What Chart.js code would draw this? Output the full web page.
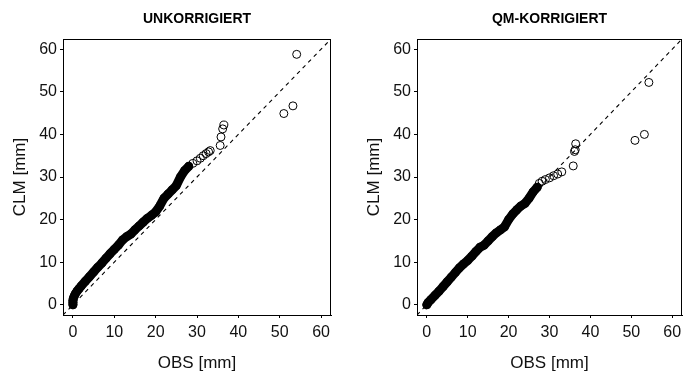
<!DOCTYPE html>
<html>
<head>
<meta charset="utf-8">
<script src="https://cdn.jsdelivr.net/npm/chart.js@4.4.1/dist/chart.umd.min.js"></script>
<style>
  body { margin: 0; background: #fff; }
  .panel { position: absolute; top: 0; width: 343px; height: 372px; }
  #left { left: 0; }
  #right { left: 344px; }
</style>
</head>
<body>
<div class="panel" id="left"><canvas id="rawChart" width="343" height="372"></canvas></div>
<div class="panel" id="right"><canvas id="qmChart" width="343" height="372"></canvas></div>
<script>
// axis limits (R style, 4% extension of 0..60) and ticks
const axisLimits = [-2.4, 62.4];
const tickValues = [0, 10, 20, 30, 40, 50, 60];

// uncorrected: dense part of the quantile curve
const rawDenseObs = [0, 0, 0, 0.1, 0.3, 0.6, 1.0, 1.5, 2, 3, 4, 5, 6, 7, 8, 9, 10, 11, 12, 13, 14, 15, 16, 17, 18, 19, 20, 21, 22, 23, 24, 25, 26, 27, 28];
const rawDenseClm = [0, 0.5, 1.0, 1.5, 2.0, 2.6, 3.2, 3.8, 4.4, 5.5, 6.6, 7.7, 8.8, 9.8, 10.9, 12.0, 13.0, 14.0, 15.2, 16.0, 16.6, 17.6, 18.5, 19.4, 20.3, 21.0, 21.8, 23.2, 25.0, 26.0, 27.0, 28.0, 30.0, 31.5, 32.5];
// uncorrected: single visible circles
const rawSparseObs = [29, 30, 30.8, 31.5, 32.2, 32.8, 33.2, 35.6, 35.8, 36.2, 36.5, 51.0, 53.2, 54.1];
const rawSparseClm = [33.2, 33.8, 34.4, 35.0, 35.5, 35.9, 36.2, 37.4, 39.4, 41.3, 42.2, 44.9, 46.7, 58.8];

// QM corrected
const qmDenseObs = [0, 0.3, 1, 2, 3, 4, 5, 6, 7, 8, 9, 10, 11, 12, 13, 14, 15, 16, 17, 18, 19, 20, 21, 22, 23, 24, 25, 26, 27];
const qmDenseClm = [0, 0.5, 1.2, 2.2, 3.2, 4.3, 5.4, 6.5, 7.6, 8.7, 9.6, 10.4, 11.4, 12.5, 13.5, 14.0, 15.0, 16.0, 16.9, 17.6, 18.3, 20.0, 21.3, 22.3, 23.2, 23.8, 25.0, 26.5, 27.6];
const qmSparseObs = [27.5, 28.2, 29, 30, 31, 32, 33, 35.8, 36.1, 36.3, 36.4, 50.9, 53.2, 54.3];
const qmSparseClm = [28.5, 29.0, 29.4, 29.8, 30.3, 30.7, 31.2, 32.6, 36.0, 36.4, 37.8, 38.6, 40.0, 52.2];

const FONT = "'Liberation Sans', Arial, sans-serif";

function toPoints(xs, ys) {
  return xs.map((x, i) => ({ x: x, y: ys[i] }));
}

const frameAndTitle = {
  id: 'frameAndTitle',
  afterDraw(chart, args, opts) {
    const { ctx, chartArea: a } = chart;
    ctx.save();
    ctx.strokeStyle = '#000';
    ctx.lineWidth = 1;
    ctx.strokeRect(Math.round(a.left) + 0.5, Math.round(a.top) + 0.5,
      Math.round(a.right - a.left) - 1, Math.round(a.bottom - a.top));
    ctx.fillStyle = '#000';
    ctx.font = 'bold 14px ' + FONT;
    ctx.textAlign = 'center';
    ctx.textBaseline = 'middle';
    ctx.fillText(opts.text, (a.left + a.right) / 2, 19);
    ctx.restore();
  }
};

function makeChart(id, title, denseObs, denseClm, sparseObs, sparseClm, padLeft, padRight) {
  const refLine = axisLimits.map(v => ({ x: v, y: v }));
  const circle = {
    pointStyle: 'circle',
    pointRadius: 4,
    pointBorderWidth: 1,
    pointBorderColor: '#000',
    pointBackgroundColor: 'rgba(0,0,0,0)'
  };
  const axis = (label, isX) => ({
    type: 'linear',
    min: axisLimits[0],
    max: axisLimits[1],
    afterBuildTicks: s => { s.ticks = tickValues.map(v => ({ value: v })); },
    afterFit: s => {
      if (isX) s.height = 57; else s.width = 63;
      s.paddingLeft = 0; s.paddingRight = 0; s.paddingTop = 0; s.paddingBottom = 0;
    },
    grid: { drawOnChartArea: false, drawTicks: true, tickLength: 3, color: '#000' },
    border: { display: true, color: '#000', width: 1 },
    ticks: { color: '#111', font: { family: FONT, size: 16 }, padding: isX ? 5 : 3, maxRotation: 0 },
    title: { display: true, text: label, color: '#111', font: { family: FONT, size: 17 },
      padding: isX ? { top: 0, bottom: -2 } : { top: 10, bottom: 0 } }
  });

  return new Chart(document.getElementById(id), {
    type: 'scatter',
    data: {
      datasets: [
        Object.assign({ data: toPoints(sparseObs, sparseClm), showLine: false }, circle),
        Object.assign({ data: toPoints(denseObs, denseClm), showLine: true, borderColor: '#000',
          borderWidth: 9, borderCapStyle: 'round', borderJoinStyle: 'round', tension: 0 }, circle),
        { data: refLine, showLine: true, borderColor: '#000', borderWidth: 1.1, borderDash: [4, 4], pointRadius: 0 }
      ]
    },
    options: {
      responsive: false,
      animation: false,
      events: [],
      layout: { padding: { top: 39, left: padLeft, right: padRight, bottom: 0 } },
      plugins: { legend: { display: false }, tooltip: { enabled: false }, frameAndTitle: { text: title } },
      scales: { x: axis('OBS [mm]', true), y: axis('CLM [mm]', false) }
    },
    plugins: [frameAndTitle]
  });
}

makeChart('rawChart', 'UNKORRIGIERT', rawDenseObs, rawDenseClm, rawSparseObs, rawSparseClm, 0, 12);
makeChart('qmChart', 'QM-KORRIGIERT', qmDenseObs, qmDenseClm, qmSparseObs, qmSparseClm, 10, 2);
</script>
</body>
</html>
